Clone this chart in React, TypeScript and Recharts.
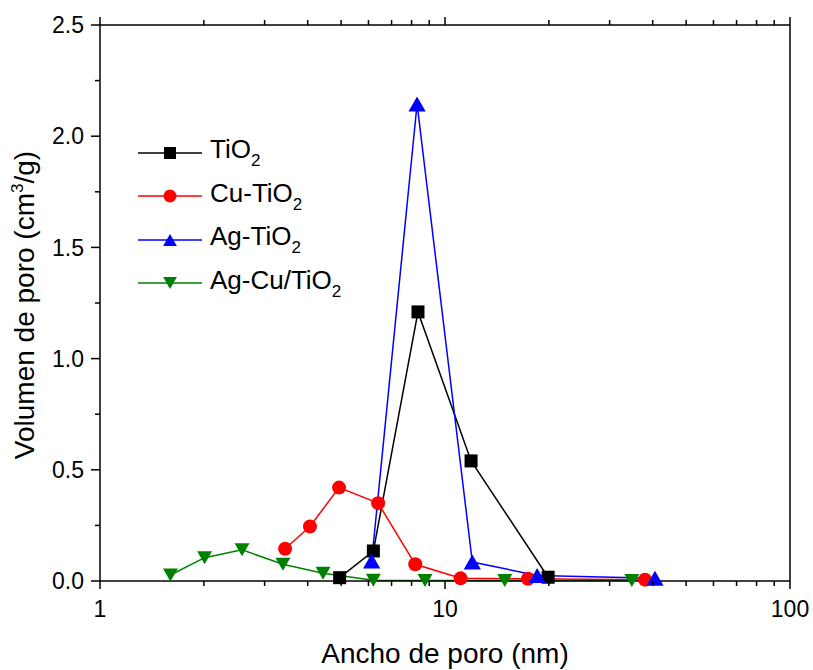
import { LineChart, Line, XAxis, YAxis, Legend } from 'recharts';

// pore size (nm) vs pore volume (cm3/g)
const tio2X = [4.95, 6.2, 8.35, 11.9, 19.9];
const tio2Y = [0.015, 0.135, 1.21, 0.54, 0.017];

const cuX = [3.44, 4.06, 4.93, 6.4, 8.2, 11.1, 17.4, 38];
const cuY = [0.145, 0.245, 0.42, 0.35, 0.075, 0.012, 0.01, 0.006];

const agX = [6.13, 8.3, 12.0, 18.5, 40.6];
const agY = [0.09, 2.145, 0.085, 0.025, 0.012];

const agCuX = [1.6, 2.01, 2.58, 3.39, 4.43, 6.2, 8.75, 14.9, 34.8];
const agCuY = [0.027, 0.105, 0.14, 0.075, 0.035, 0.003, 0.002, 0.002, 0.002];

const xTicks = [1, 2, 3, 4, 5, 6, 7, 8, 9, 10, 20, 30, 40, 50, 60, 70, 80, 90, 100];
const xLabels = [1, 10, 100];
const yTicks = [0, 0.25, 0.5, 0.75, 1, 1.25, 1.5, 1.75, 2, 2.25, 2.5];

const FONT = '"Liberation Sans", Arial, sans-serif';

type Shape = 'square' | 'circle' | 'up' | 'down';

const zip = (xs: number[], ys: number[]) => xs.map((x, i) => ({ x, y: ys[i] }));

const SERIES: { name: string; color: string; shape: Shape; data: { x: number; y: number }[] }[] = [
  { name: 'TiO', color: '#000000', shape: 'square', data: zip(tio2X, tio2Y) },
  { name: 'Cu-TiO', color: '#ff0000', shape: 'circle', data: zip(cuX, cuY) },
  { name: 'Ag-TiO', color: '#0000ff', shape: 'up', data: zip(agX, agY) },
  { name: 'Ag-Cu/TiO', color: '#008000', shape: 'down', data: zip(agCuX, agCuY) },
];

function Marker({ cx, cy, shape, color, size }: { cx: number; cy: number; shape: Shape; color: string; size: number }) {
  const h = size / 2;
  if (shape === 'square') return <rect x={cx - h} y={cy - h} width={size} height={size} fill={color} />;
  if (shape === 'circle') return <circle cx={cx} cy={cy} r={h + 0.5} fill={color} />;
  if (shape === 'up') {
    return <polygon points={`${cx},${cy - h} ${cx - h * 1.15},${cy + h} ${cx + h * 1.15},${cy + h}`} fill={color} />;
  }
  return <polygon points={`${cx},${cy + h} ${cx - h * 1.15},${cy - h} ${cx + h * 1.15},${cy - h}`} fill={color} />;
}

const isHalf = (v: number) => Math.abs(v * 2 - Math.round(v * 2)) < 1e-6;

// tick renderers (tickSize 0 so x/y sit on the axis line)
const BottomTick = (props: any) => {
  const { x, y, payload } = props;
  const major = xLabels.includes(payload.value);
  return (
    <g>
      <line x1={x} x2={x} y1={y} y2={y + (major ? 8 : 5)} stroke="#000" strokeWidth={1.5} />
      {major && (
        <text x={x} y={y + 36} textAnchor="middle" fontSize={23} fontFamily={FONT} fill="#000">
          {payload.value}
        </text>
      )}
    </g>
  );
};

const TopTick = (props: any) => {
  const { x, y, payload } = props;
  const major = xLabels.includes(payload.value);
  return <line x1={x} x2={x} y1={y} y2={y - (major ? 8 : 5)} stroke="#000" strokeWidth={1.5} />;
};

const LeftTick = (props: any) => {
  const { x, y, payload } = props;
  const major = isHalf(payload.value);
  return (
    <g>
      <line x1={x - (major ? 9 : 5)} x2={x} y1={y} y2={y} stroke="#000" strokeWidth={1.5} />
      {major && (
        <text x={x - 16} y={y} dy="0.36em" textAnchor="end" fontSize={23} fontFamily={FONT} fill="#000">
          {payload.value.toFixed(1)}
        </text>
      )}
    </g>
  );
};

const RightTick = (props: any) => {
  const { x, y, payload } = props;
  const major = isHalf(payload.value);
  return <line x1={x} x2={x + (major ? 9 : 5)} y1={y} y2={y} stroke="#000" strokeWidth={1.5} />;
};

function LegendBox() {
  return (
    <div style={{ fontFamily: FONT, fontSize: 26, color: '#000' }}>
      {SERIES.map((s) => (
        <div key={s.name} style={{ display: 'flex', alignItems: 'center', height: 43.5 }}>
          <svg width={66} height={20} style={{ overflow: 'visible' }}>
            <line x1={0} x2={64} y1={10} y2={10} stroke={s.color} strokeWidth={1.5} />
            <Marker cx={32} cy={10} shape={s.shape} color={s.color} size={12} />
          </svg>
          <span style={{ marginLeft: 6, whiteSpace: 'nowrap' }}>
            {s.name}
            <sub style={{ fontSize: 17, verticalAlign: '-0.45em' }}>2</sub>
          </span>
        </div>
      ))}
    </div>
  );
}

const axisLine = { stroke: '#000', strokeWidth: 1.5 };

export default function App() {
  return (
    <div style={{ position: 'absolute', left: 0, top: 0, background: '#fff' }}>
      <LineChart width={813} height={670} margin={{ top: 24, right: 22, bottom: 88, left: 99 }}>
        <XAxis
          xAxisId="b"
          dataKey="x"
          type="number"
          scale="log"
          domain={[1, 100]}
          allowDataOverflow
          ticks={xTicks}
          interval={0}
          height={1}
          tickSize={0}
          tickMargin={0}
          tick={<BottomTick />}
          axisLine={axisLine}
          label={{
            content: () => (
              <text x={445} y={663} textAnchor="middle" fontSize={28} fontFamily={FONT} fill="#000">
                Ancho de poro (nm)
              </text>
            ),
          }}
        />
        <XAxis
          xAxisId="t"
          orientation="top"
          dataKey="x"
          type="number"
          scale="log"
          domain={[1, 100]}
          allowDataOverflow
          ticks={xTicks}
          interval={0}
          height={1}
          tickSize={0}
          tickMargin={0}
          tick={<TopTick />}
          axisLine={axisLine}
        />
        <YAxis
          yAxisId="l"
          type="number"
          domain={[0, 2.5]}
          ticks={yTicks}
          interval={0}
          width={1}
          tickSize={0}
          tickMargin={0}
          tick={<LeftTick />}
          axisLine={axisLine}
          label={{
            content: () => (
              <text
                x={34}
                y={305}
                transform="rotate(-90 34 305)"
                textAnchor="middle"
                fontSize={28}
                fontFamily={FONT}
                fill="#000"
              >
                <tspan>Volumen de poro (cm</tspan>
                <tspan dy={-11} fontSize={17}>3</tspan>
                <tspan dy={11}>/g)</tspan>
              </text>
            ),
          }}
        />
        <YAxis
          yAxisId="r"
          orientation="right"
          type="number"
          domain={[0, 2.5]}
          ticks={yTicks}
          interval={0}
          width={1}
          tickSize={0}
          tickMargin={0}
          tick={<RightTick />}
          axisLine={axisLine}
        />
        <Legend
          layout="vertical"
          align="center"
          verticalAlign="middle"
          content={() => <LegendBox />}
          wrapperStyle={{ left: 138, top: 131, width: 260, height: 180 }}
        />
        {SERIES.map((s) => (
          <Line
            key={s.name}
            xAxisId="b"
            yAxisId="l"
            data={s.data}
            dataKey="y"
            name={s.name + '2'}
            stroke={s.color}
            strokeWidth={1.5}
            isAnimationActive={false}
            dot={(p: any) => (
              <Marker key={`${s.name}-${p.index}`} cx={p.cx} cy={p.cy} shape={s.shape} color={s.color} size={s.shape === 'up' ? 15 : 13} />
            )}
            activeDot={false}
          />
        ))}
      </LineChart>
    </div>
  );
}
